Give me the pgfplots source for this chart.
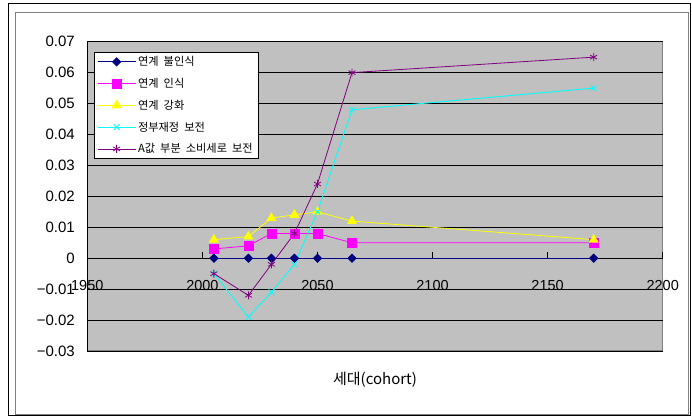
\documentclass[border=0pt]{standalone}
\usepackage{pgfplots}
\pgfplotsset{compat=1.18}
\usepackage{fontspec}
\setmainfont{Liberation Sans}
\newfontfamily\kr{Noto Sans CJK KR}
\definecolor{bggray}{HTML}{C0C0C0}
\definecolor{sOne}{HTML}{000080}
\definecolor{sTwo}{HTML}{FF00FF}
\definecolor{sThree}{HTML}{FFFF00}
\definecolor{sFour}{HTML}{00FFFF}
\definecolor{sFive}{HTML}{800080}
\newcommand{\wsp}{\hspace{0.45em}}
\begin{document}
\begin{tikzpicture}[x=1pt,y=1pt]
\path (0,0) rectangle (692,419);
\draw[black,line width=1.2pt] (8.6,3.6) rectangle (690.4,415.4);
\draw[gray,line width=0.8pt] (15,5) rectangle (688.5,407);
\begin{axis}[
  at={(87.3pt,68pt)}, anchor=south west,
  scale only axis, width=575.4pt, height=309.3pt,
  xmin=1950, xmax=2200, ymin=-0.03, ymax=0.07,
  axis x line*=middle, axis y line*=left,
  x axis line style={-, black, line width=0.8pt},
  y axis line style={-, black, line width=1.2pt},
  axis background/.style={fill=bggray, draw=gray, line width=1.5pt},
  xtick={1950,2000,2050,2100,2150,2200},
  xticklabels={1950,2000,2050,2100,2150,2200},
  ytick={-0.03,-0.02,-0.01,0,0.01,0.02,0.03,0.04,0.05,0.06,0.07},
  yticklabels={−0.03,−0.02,−0.01,0,0.01,0.02,0.03,0.04,0.05,0.06,0.07},
  scaled y ticks=false, scaled x ticks=false,
  ymajorgrids, grid style={black, line width=0.9pt},
  ytick style={draw=none},
  xtick style={black, line width=0.6pt},
  major tick length=6pt,
  xticklabel style={font=\fontsize{14.5}{17}\selectfont, yshift=-19pt},
  yticklabel style={font=\fontsize{15}{18}\selectfont, xshift=-9pt},
  hide obscured x ticks=false,
  legend style={at={(0.0116,0.9657)}, anchor=north west, draw=black, fill=white,
    font=\kr\fontsize{11.2}{13}\selectfont, inner xsep=3pt, inner ysep=2pt, row sep=7pt},
  legend cell align=left,
  legend image code/.code={\draw[mark repeat=2,mark phase=2,#1] plot coordinates {(0pt,0pt) (19pt,0pt) (38pt,0pt)};},
]
\addplot[color=sOne, line width=0.8pt, mark=square*, mark size=2.9pt, mark options={rotate=45}] coordinates {
 (2005,0) (2020,0) (2030,0) (2040,0) (2050,0) (2065,0) (2170,0)};
\addlegendentry{연계\wsp 불인식}
\addplot[color=sTwo, line width=0.8pt, mark=square*, mark size=4.5pt] coordinates {
 (2005,0.003) (2020,0.004) (2030,0.008) (2040,0.008) (2050,0.008) (2065,0.005) (2170,0.005)};
\addlegendentry{연계\wsp 인식}
\addplot[color=sThree, line width=0.8pt, mark=triangle*, mark size=5pt] coordinates {
 (2005,0.006) (2020,0.007) (2030,0.013) (2040,0.014) (2050,0.015) (2065,0.012) (2170,0.006)};
\addlegendentry{연계\wsp 강화}
\addplot[color=sFour, line width=0.9pt, mark=x, mark size=4pt] coordinates {
 (2005,-0.005) (2020,-0.019) (2030,-0.011) (2040,-0.002) (2050,0.015) (2065,0.048) (2170,0.055)};
\addlegendentry{정부재정\wsp 보전}
\addplot[color=sFive, line width=0.8pt, mark=asterisk, mark size=4pt] coordinates {
 (2005,-0.005) (2020,-0.012) (2030,-0.002) (2040,0.008) (2050,0.024) (2065,0.060) (2170,0.065)};
\addlegendentry{A값\wsp 부분\wsp 소비세로\wsp 보전\hspace{10pt}}
\end{axis}
\node[font=\kr\fontsize{15}{18}\selectfont] at (375,39) {세대(cohort)};
\end{tikzpicture}
\end{document}
